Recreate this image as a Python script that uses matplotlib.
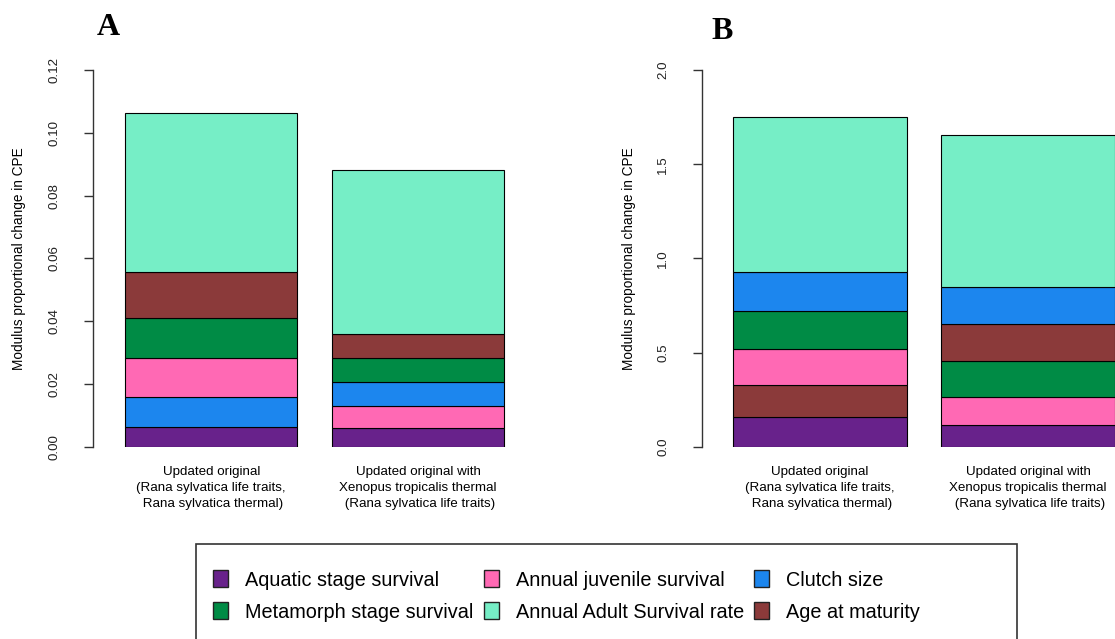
import numpy as np
import matplotlib
matplotlib.use("Agg")
import matplotlib.pyplot as plt
from matplotlib.patches import Rectangle

plt.rcParams['font.family'] = ['Liberation Sans', 'DejaVu Sans']

# DATA
categories = ["Aquatic stage survival", "Annual juvenile survival", "Clutch size",
              "Metamorph stage survival", "Annual Adult Survival rate", "Age at maturity"]
colors = ["#68228B", "#FF69B4", "#1C86EE", "#008B45", "#76EEC6", "#8B3A3A"]

bar_labels = ["Updated original\n(Rana sylvatica life traits,\n Rana sylvatica thermal)",
              "Updated original with\nXenopus tropicalis thermal\n (Rana sylvatica life traits)"]

# panel A, one list per bar, same order as categories
a_original = [0.0064, 0.0122, 0.0095, 0.0128, 0.0505, 0.0148]
a_xenopus = [0.0059, 0.0072, 0.0074, 0.0076, 0.0522, 0.0078]
# panel B
b_original = [0.156, 0.194, 0.207, 0.199, 0.823, 0.170]
b_xenopus = [0.114, 0.152, 0.200, 0.187, 0.804, 0.197]

a_ticks = [0.00, 0.02, 0.04, 0.06, 0.08, 0.10, 0.12]
b_ticks = [0.0, 0.5, 1.0, 1.5, 2.0]

W, H = 1115, 639
fig = plt.figure(figsize=(W / 100, H / 100), dpi=100)


def px(x, y):
    # pixel (from top left) -> figure fraction
    return x / W, 1 - y / H


def stacked_panel(left_px, zero_px, unit_px, right_px, bars, ticks, fmt):
    top_px, bottom_px = 70, 446.7
    ax = fig.add_axes([left_px / W, 1 - bottom_px / H,
                       (right_px - left_px) / W, (bottom_px - top_px) / H])
    centers = [0.7, 1.9]
    for xc, vals in zip(centers, bars):
        order = np.argsort(vals, kind='stable')  # smallest at the bottom
        bottom = 0
        for k in order:
            ax.bar(xc, vals[k], width=1, bottom=bottom, color=colors[k],
                   edgecolor='black', linewidth=0.8)
            bottom += vals[k]
    ax.set_xlim((left_px - zero_px) / unit_px, (right_px - zero_px) / unit_px)
    ax.set_ylim(ticks[0], ticks[-1])
    for s in ['top', 'right', 'bottom']:
        ax.spines[s].set_visible(False)
    ax.spines['left'].set_color('#333333')
    ax.spines['left'].set_linewidth(1)
    ax.set_yticks(ticks)
    ax.set_yticklabels([fmt.format(t) for t in ticks], rotation=90, va='center',
                       fontsize=9.6, color='#222222')
    ax.tick_params(axis='y', length=6.3, width=1, color='#333333', pad=17)
    ax.set_xticks(centers)
    ax.set_xticklabels(bar_labels, fontsize=9.6, linespacing=1.42, va='top')
    ax.tick_params(axis='x', length=0, pad=14)
    ax.patch.set_visible(False)
    return ax


stacked_panel(93.3, 90.5, 172.5, 540, [a_original, a_xenopus], a_ticks, "{:.2f}")
stacked_panel(701.7, 698.6, 173.4, 1115, [b_original, b_xenopus], b_ticks, "{:.1f}")

# y labels and panel letters
for x in [19.2, 629]:
    fig.text(*px(x, 258.5), "Modulus proportional change in CPE", rotation=90,
             ha='center', va='center', fontsize=9.8)
fig.text(*px(97, 35), "A", family='Liberation Serif', fontweight='bold',
         fontsize=23, va='baseline', ha='left')
fig.text(*px(711, 39), "B", family='Liberation Serif', fontweight='bold',
         fontsize=23, va='baseline', ha='left')

# legend box, drawn by hand to sit like the original (cut at the bottom)
fig.patches.append(Rectangle(px(195.5, 660), (1016.5 - 195.5) / W, (660 - 543.5) / H,
                             transform=fig.transFigure, fill=False,
                             edgecolor='#333333', linewidth=1.2, clip_on=False))
legend_order = [0, 1, 2, 3, 4, 5]
col_x = [212.7, 483.7, 753.7]
row_y = [578.3, 610.5]
for i, k in enumerate(legend_order):
    r, c = divmod(i, 3)
    x0, yc = col_x[c], row_y[r]
    fig.patches.append(Rectangle(px(x0, yc + 8.5), 15 / W, 17 / H,
                                 transform=fig.transFigure, facecolor=colors[k],
                                 edgecolor='#222222', linewidth=1))
    fig.text(*px(x0 + 32.5, yc), categories[k], fontsize=14.3,
             ha='left', va='center_baseline')

fig.savefig("out.png", dpi=100)
